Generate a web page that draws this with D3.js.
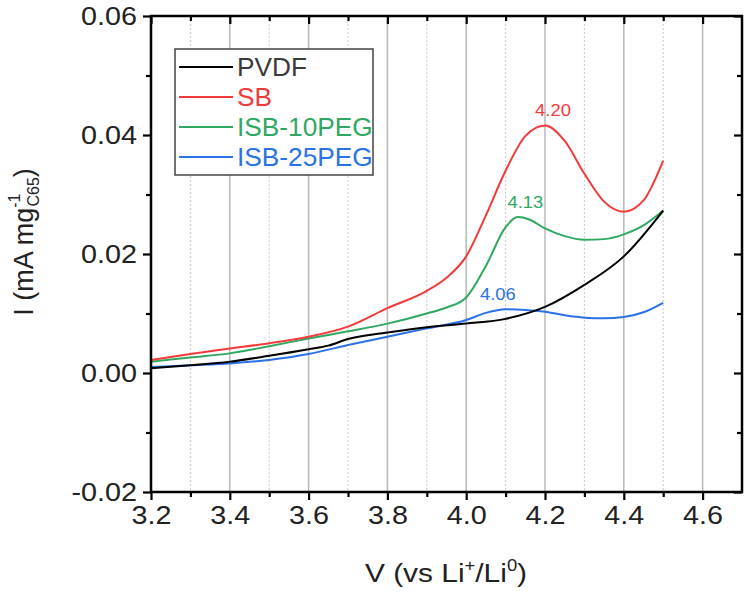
<!DOCTYPE html>
<html>
<head>
<meta charset="utf-8">
<script src="https://cdn.jsdelivr.net/npm/d3@7"></script>
<style>
  body { margin: 0; background: #fff; }
  svg text { font-family: "Liberation Sans", Arial, sans-serif; }
</style>
</head>
<body>
<svg id="svg" width="750" height="593"></svg>
<script>
// series data
var seriesNames = ["PVDF", "SB", "ISB-10PEG", "ISB-25PEG"]
var seriesColors = ["#000000", "#f23a3a", "#2fa862", "#2a72e6"]
var legendTextColors = ["#3a3a3a", "#f23a3a", "#2fa862", "#2a72e6"]

var pvdfV = [3.2, 3.3, 3.4, 3.5, 3.6, 3.65, 3.7, 3.8, 3.9, 4.0, 4.1, 4.2, 4.3, 4.4, 4.5]
var pvdfI = [0.0008, 0.0013, 0.0019, 0.0029, 0.0040, 0.0046, 0.0057, 0.0068, 0.0077, 0.0083, 0.0091, 0.0111, 0.0148, 0.0196, 0.0273]

var sbV = [3.2, 3.3, 3.4, 3.5, 3.6, 3.7, 3.8, 3.9, 3.95, 4.0, 4.05, 4.1, 4.15, 4.2, 4.25, 4.3, 4.35, 4.4, 4.45, 4.5]
var sbI = [0.0022, 0.0032, 0.0041, 0.0050, 0.0061, 0.0078, 0.0109, 0.0138, 0.0160, 0.0196, 0.0265, 0.0340, 0.0398, 0.0416, 0.0390, 0.0335, 0.0288, 0.0271, 0.0290, 0.0357]

var peg10V = [3.2, 3.3, 3.4, 3.5, 3.6, 3.7, 3.8, 3.9, 3.95, 4.0, 4.05, 4.1, 4.13, 4.16, 4.2, 4.25, 4.3, 4.35, 4.4, 4.45, 4.5]
var peg10I = [0.0019, 0.0026, 0.0033, 0.0045, 0.0058, 0.0070, 0.0083, 0.0100, 0.0110, 0.0127, 0.0180, 0.0245, 0.0262, 0.0258, 0.0243, 0.0230, 0.0224, 0.0225, 0.0233, 0.0248, 0.0273]

var peg25V = [3.2, 3.3, 3.4, 3.5, 3.6, 3.7, 3.8, 3.9, 4.0, 4.05, 4.1, 4.15, 4.2, 4.25, 4.3, 4.35, 4.4, 4.45, 4.5]
var peg25I = [0.0010, 0.0013, 0.0016, 0.0022, 0.0032, 0.0047, 0.0061, 0.0075, 0.0089, 0.0101, 0.0107, 0.0106, 0.0103, 0.0097, 0.0093, 0.0092, 0.0094, 0.0102, 0.0118]

// peak annotations
var peakV = [4.20, 4.13, 4.06]
var peakI = [0.0416, 0.0262, 0.0107]
var peakText = ["4.20", "4.13", "4.06"]
var peakSeries = [1, 2, 3]

var xTicks = [3.2, 3.4, 3.6, 3.8, 4.0, 4.2, 4.4, 4.6]
var xMinor = [3.3, 3.5, 3.7, 3.9, 4.1, 4.3, 4.5]
var yTicks = [-0.02, 0.00, 0.02, 0.04, 0.06]
var yMinor = [-0.01, 0.01, 0.03, 0.05]

var margin = {left: 151, right: 8, top: 16, bottom: 101}
var width = 750, height = 593
var SX = 1.15  // picture is a bit wide, text looks stretched

var svg = d3.select("#svg")

var x = d3.scaleLinear().domain([3.2, 4.7]).range([margin.left, width - margin.right])
var y = d3.scaleLinear().domain([-0.02, 0.06]).range([height - margin.bottom, margin.top])

var plotTop = margin.top, plotBot = height - margin.bottom
var plotL = margin.left, plotR = width - margin.right

// vertical grid
svg.append("g").selectAll("line").data(xTicks.slice(1)).enter().append("line")
  .attr("x1", d => x(d)).attr("x2", d => x(d))
  .attr("y1", plotTop).attr("y2", plotBot)
  .attr("stroke", "#b8b8b8").attr("stroke-width", 1.5)
svg.append("g").selectAll("line").data(xMinor).enter().append("line")
  .attr("x1", d => x(d)).attr("x2", d => x(d))
  .attr("y1", plotTop).attr("y2", plotBot)
  .attr("stroke", "#c8c8c8").attr("stroke-width", 1).attr("stroke-dasharray", "2,2")

// curves
var allSeries = [[pvdfV, pvdfI], [sbV, sbI], [peg10V, peg10I], [peg25V, peg25I]]
var line = d3.line().x(d => x(d[0])).y(d => y(d[1])).curve(d3.curveMonotoneX)

var drawOrder = [3, 2, 1, 0]
drawOrder.forEach(function(i){
  var pts = allSeries[i][0].map((v, k) => [v, allSeries[i][1][k]])
  svg.append("path").datum(pts)
    .attr("d", line)
    .attr("fill", "none")
    .attr("stroke", seriesColors[i])
    .attr("stroke-width", 2)
})

// peak labels
svg.append("g").selectAll("text").data(peakV).enter().append("text")
  .attr("transform", (d, i) => `translate(${x(d) + 8},${y(peakI[i]) - 9}) scale(${SX},1)`)
  .attr("text-anchor", "middle")
  .attr("font-size", 16)
  .attr("fill", (d, i) => seriesColors[peakSeries[i]])
  .text((d, i) => peakText[i])

// axes
var fmtX = d3.format(".1f")
var fmtY = d => d3.format(".2f")(d).replace("\u2212", "-")
var gBottom = svg.append("g").attr("transform", `translate(0,${plotBot})`)
  .call(d3.axisBottom(x).tickValues(xTicks).tickFormat(fmtX).tickSize(8).tickPadding(6))
var gBottomMinor = svg.append("g").attr("transform", `translate(0,${plotBot})`)
  .call(d3.axisBottom(x).tickValues(xMinor).tickFormat("").tickSize(5))
var gTop = svg.append("g").attr("transform", `translate(0,${plotTop})`)
  .call(d3.axisBottom(x).tickValues(xTicks).tickFormat("").tickSize(8))
var gTopMinor = svg.append("g").attr("transform", `translate(0,${plotTop})`)
  .call(d3.axisBottom(x).tickValues(xMinor).tickFormat("").tickSize(5))
var gLeft = svg.append("g").attr("transform", `translate(${plotL},0)`)
  .call(d3.axisLeft(y).tickValues(yTicks).tickFormat(fmtY).tickSize(8).tickPadding(6))
var gLeftMinor = svg.append("g").attr("transform", `translate(${plotL},0)`)
  .call(d3.axisLeft(y).tickValues(yMinor).tickFormat("").tickSize(5))
var gRight = svg.append("g").attr("transform", `translate(${plotR},0)`)
  .call(d3.axisLeft(y).tickValues(yTicks).tickFormat("").tickSize(8))
var gRightMinor = svg.append("g").attr("transform", `translate(${plotR},0)`)
  .call(d3.axisLeft(y).tickValues(yMinor).tickFormat("").tickSize(5))

;[gBottom, gBottomMinor, gTop, gTopMinor, gLeft, gLeftMinor, gRight, gRightMinor].forEach(function(g){
  g.select(".domain").remove()
  g.selectAll(".tick line").attr("stroke", "#000").attr("stroke-width", 2.2)
  g.selectAll(".tick text").attr("font-size", 25).attr("fill", "#222")
    .attr("font-family", "Liberation Sans, Arial, sans-serif")
})
gBottom.selectAll(".tick text").attr("transform", `scale(${SX},1)`)
gLeft.selectAll(".tick text").attr("x", 0).attr("transform", `translate(-14,0) scale(${SX},1)`)

svg.append("rect")
  .attr("x", plotL).attr("y", plotTop)
  .attr("width", plotR - plotL).attr("height", plotBot - plotTop)
  .attr("fill", "none").attr("stroke", "#000").attr("stroke-width", 2.5)

// axis titles
var xt = svg.append("text")
  .attr("transform", `translate(446,582) scale(${SX},1)`)
  .attr("text-anchor", "middle").attr("font-size", 26).attr("fill", "#222")
xt.append("tspan").text("V (vs Li")
xt.append("tspan").attr("dy", -11).attr("font-size", 16).text("+")
xt.append("tspan").attr("dy", 11).text("/Li")
xt.append("tspan").attr("dy", -11).attr("font-size", 16).text("0")
xt.append("tspan").attr("dy", 11).text(")")

var yt = svg.append("text")
  .attr("transform", "translate(33,242) rotate(-90)")
  .attr("text-anchor", "middle").attr("font-size", 27).attr("fill", "#222")
yt.append("tspan").text("I (mA mg")
yt.append("tspan").attr("dy", -13).attr("font-size", 16).text("-1")
yt.append("tspan").attr("dx", -13).attr("dy", 19).attr("font-size", 16).text("C65")
yt.append("tspan").attr("dy", -6).text(")")

// legend
var lg = svg.append("g")
lg.append("rect").attr("x", 175).attr("y", 49).attr("width", 198).attr("height", 126)
  .attr("fill", "#fff").attr("stroke", "#444").attr("stroke-width", 1.5)
seriesNames.forEach(function(n, i){
  var yy = 67 + i * 30
  lg.append("line").attr("x1", 179).attr("x2", 233).attr("y1", yy).attr("y2", yy)
    .attr("stroke", seriesColors[i]).attr("stroke-width", 2)
  lg.append("text").attr("transform", `translate(237,${yy + 9}) scale(1.05,1)`).attr("font-size", 25)
    .attr("fill", legendTextColors[i]).text(n)
})
</script>
</body>
</html>
